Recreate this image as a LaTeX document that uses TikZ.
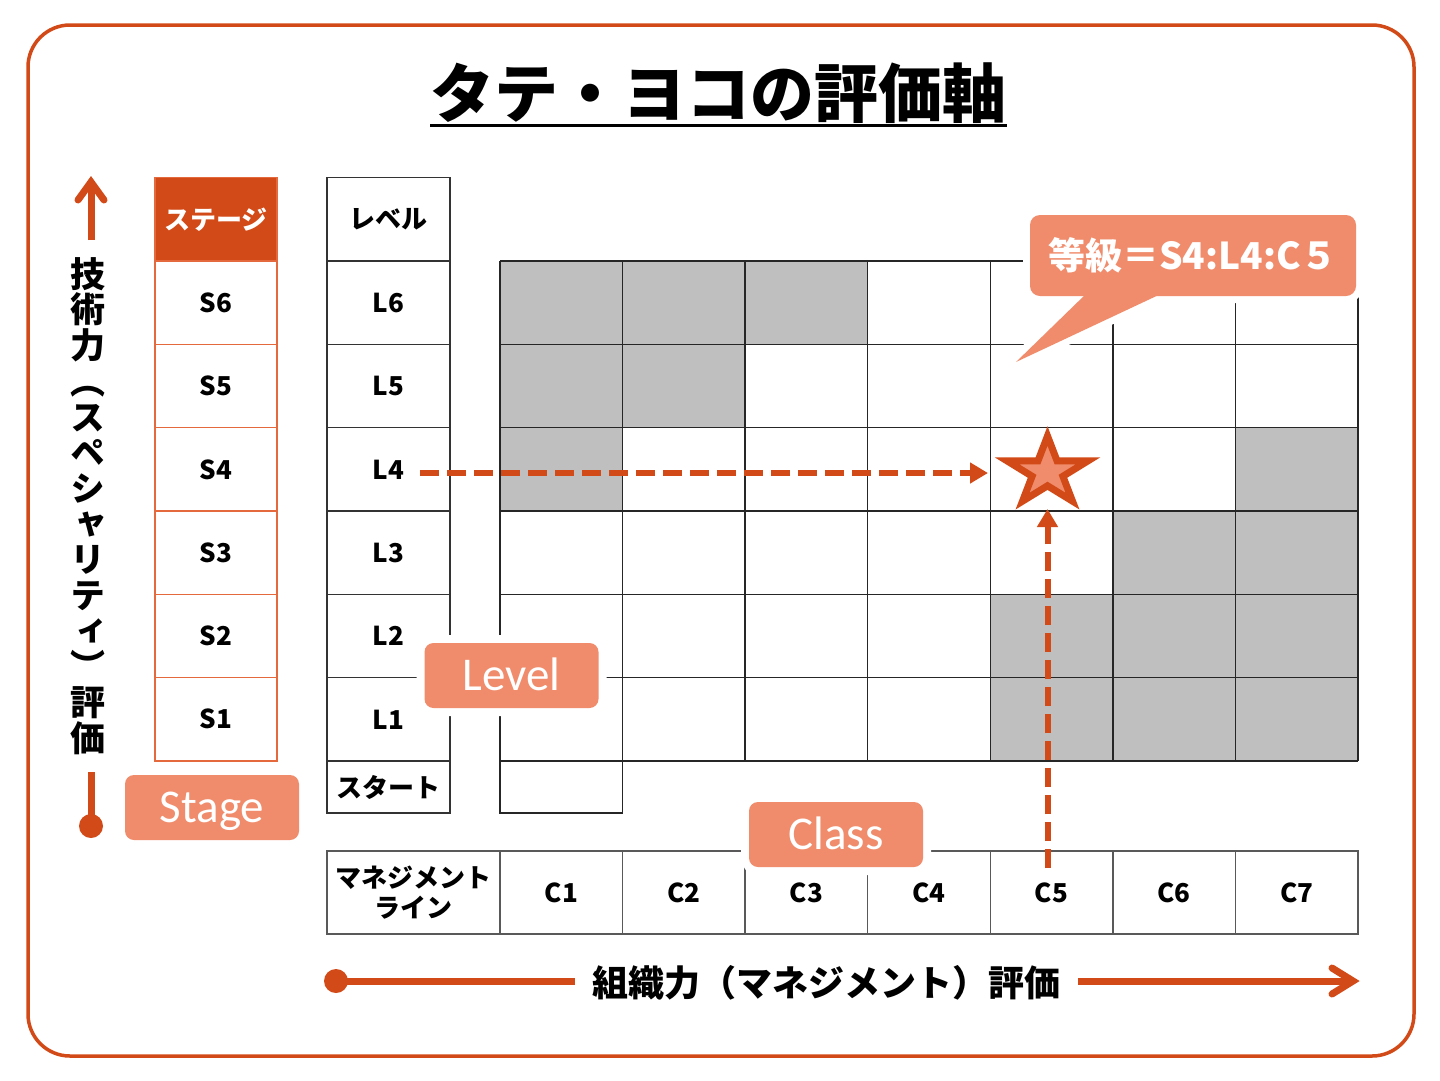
\documentclass[tikz,border=0pt]{standalone}
\usepackage{fontspec}
\setmainfont{Noto Sans CJK JP}
\newfontfamily\jpv{Noto Sans CJK JP}[RawFeature=+vert]
\newfontfamily\calfont{Carlito}
\usetikzlibrary{arrows.meta}
\definecolor{dorange}{HTML}{D24A17}
\definecolor{lorange}{HTML}{F08C6B}
\definecolor{gcell}{HTML}{BFBFBF}
\definecolor{sline}{HTML}{E46A3E}
\begin{document}
\begin{tikzpicture}[x=1pt,y=-1pt,
  cellS/.style={draw=sline, line width=1.5, minimum width=122, minimum height=83.33, inner sep=0, font=\bfseries\fontsize{26}{30}\selectfont},
  cellL/.style={draw=black!80, line width=1.5, minimum width=123, minimum height=83.33, inner sep=0, font=\bfseries\fontsize{26}{30}\selectfont},
  cellC/.style={draw=black!65, line width=1.5, minimum width=122.57, minimum height=83, inner sep=0, align=center, font=\bfseries\fontsize{26}{30}\selectfont},
  gridln/.style={draw=black!85, line width=1.3},
  lab/.style={fill=lorange, rounded corners=9, minimum width=174, minimum height=65, inner sep=0, text=white, text height=30, text depth=0, font=\calfont\fontsize{47}{47}\selectfont, preaction={draw=white, line width=16}},
  callbox/.style={fill=lorange, rounded corners=10, minimum width=326, minimum height=81, inner sep=0, text=white, font=\bfseries\fontsize{37}{37}\selectfont, preaction={draw=white, line width=14}},
  dashar/.style={draw=dorange, line width=6, dash pattern=on 19pt off 8pt, -{Triangle[length=18pt,width=20pt]}},
  axisln/.style={draw=dorange, line width=7},
  starst/.style={fill=lorange, draw=dorange, line width=7, line join=miter}
]
\useasboundingbox (0,0) rectangle (1440,1080);
% frame
\draw[dorange, line width=3.5, rounded corners=42] (28,25) rectangle (1414,1056);
% title
\node[font=\bfseries\fontsize{64}{64}\selectfont, inner sep=0, anchor=base] (title) at (718.5,117.5) {タテ・ヨコの評価軸};
\draw[line width=3] ([yshift=-7.5pt]title.base west) -- ([yshift=-7.5pt]title.base east);
% stage column
\node[cellS, fill=dorange, text=white] (sh) at (216,219.33) {ステージ};
\foreach \n [count=\i] in {6,5,4,3,2,1}
  \node[cellS] (s\n) at (216,{219.33+83.33*\i}) {S\n};
% level column
\node[cellL] (lh) at (388.5,219.33) {レベル};
\foreach \n [count=\i] in {6,5,4,3,2,1}
  \node[cellL] (l\n) at (388.5,{219.33+83.33*\i}) {L\n};
\node[cellL, minimum height=52] (lst) at (388.5,787) {スタート};
% grid fills
\foreach \c/\r in {1/1,2/1,3/1,1/2,2/2,1/3,7/3,6/4,7/4,5/5,6/5,7/5,5/6,6/6,7/6}
  \fill[gcell] ({500+122.57*(\c-1)},{261+83.33*(\r-1)}) rectangle ++(122.57,83.33);
% grid lines
\foreach \r in {0,...,6}
  \draw[gridln] (500,{261+83.33*\r}) -- (1358,{261+83.33*\r});
\foreach \c in {0,...,7}
  \draw[gridln] ({500+122.57*\c},261) -- ({500+122.57*\c},761);
\draw[gridln] (500,761) rectangle (622.57,813);
% bottom row
\node[cellC, minimum width=173] (mg) at (413.5,892.5) {マネジメント\\ライン};
\foreach \k in {1,...,7}
  \node[cellC] (c\k) at ({561.29+122.57*(\k-1)},892.5) {C\k};
% callout
\coordinate (tb1) at (1088,292);
\coordinate (tb2) at (1165,292);
\coordinate (tip) at (1016,362);
\draw[white, line width=14, line join=round] (tb1) -- (tip) -- (tb2) -- cycle;
\node[callbox] (callout) at (1193,255.5) {等級＝S4:L4:C５};
\fill[lorange] (tb1) -- (tip) -- (tb2) -- cycle;
% labels
\node[lab] (lev) at (511.5,675.5) {Level};
\node[lab] (stg) at (212,807.5) {Stage};
\node[lab] (cls) at (836,834.5) {Class};
% dashed arrows
\coordinate (h0) at (420,473);
\coordinate (starW) at (988,473);
\draw[dashar] (h0) -- (starW);
\coordinate (v0) at (1047.5,868);
\coordinate (starS) at (1047.5,509);
\draw[dashar] (v0) -- (starS);
% star
\begin{scope}[shift={(1047.5,472)}]
\draw[starst] (-90:42.5 and 36) -- (-54:16.2 and 13.8) -- (-18:42.5 and 36) -- (18:16.2 and 13.8) -- (54:42.5 and 36) -- (90:16.2 and 13.8) -- (126:42.5 and 36) -- (162:16.2 and 13.8) -- (-162:42.5 and 36) -- (-126:16.2 and 13.8) -- cycle;
\end{scope}
% vertical axis
\coordinate (ybtop) at (91,772);
\coordinate (ybot) at (91,826);
\draw[axisln] (ybtop) -- (ybot);
\fill[dorange] (ybot) circle[radius=12];
\coordinate (ylow) at (91,240);
\coordinate (ytip) at (91,182);
\draw[axisln] (ylow) -- (ytip);
\draw[axisln, line cap=round] (78,200) -- (ytip) -- (104,200);
\node[font=\jpv\bfseries\fontsize{35}{35.7}\selectfont, align=center, inner sep=0] (ylab) at (88,506) {技\\術\\力\\（\\ス\\ペ\\シ\\ャ\\リ\\テ\\ィ\\）\\評\\価};
% horizontal axis
\coordinate (x0) at (336,981);
\coordinate (x1) at (575,981);
\coordinate (x2) at (1078,981);
\coordinate (xtip) at (1353,981);
\fill[dorange] (x0) circle[radius=12];
\draw[axisln] (x0) -- (x1);
\draw[axisln] (x2) -- (xtip);
\draw[axisln, line cap=round] (1332,968) -- (xtip) -- (1332,994);
\node[font=\bfseries\fontsize{36}{36}\selectfont, inner sep=0] (xlab) at (826,983) {組織力（マネジメント）評価};
\end{tikzpicture}
\end{document}
